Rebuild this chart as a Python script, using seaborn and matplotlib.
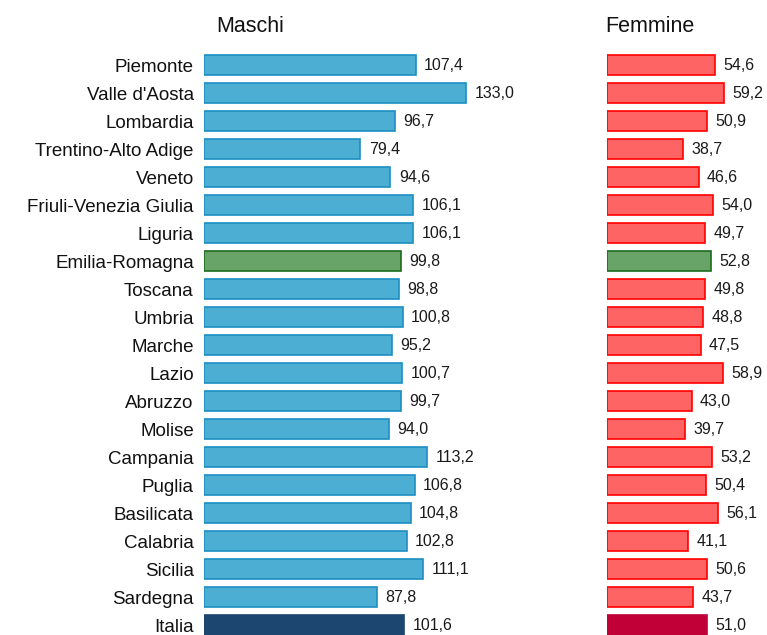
import pandas as pd
import numpy as np
import matplotlib.pyplot as plt
import seaborn as sns

# -------------------------
# Data
# -------------------------
regioni = ["Piemonte", "Valle d'Aosta", "Lombardia", "Trentino-Alto Adige", "Veneto",
           "Friuli-Venezia Giulia", "Liguria", "Emilia-Romagna", "Toscana", "Umbria",
           "Marche", "Lazio", "Abruzzo", "Molise", "Campania", "Puglia", "Basilicata",
           "Calabria", "Sicilia", "Sardegna", "Italia"]
maschi = [107.4, 133.0, 96.7, 79.4, 94.6, 106.1, 106.1, 99.8, 98.8, 100.8,
          95.2, 100.7, 99.7, 94.0, 113.2, 106.8, 104.8, 102.8, 111.1, 87.8, 101.6]
femmine = [54.6, 59.2, 50.9, 38.7, 46.6, 54.0, 49.7, 52.8, 49.8, 48.8,
           47.5, 58.9, 43.0, 39.7, 53.2, 50.4, 56.1, 41.1, 50.6, 43.7, 51.0]

df = pd.DataFrame({"regione": regioni, "maschi": maschi, "femmine": femmine})

sns.set_theme(style="white")
plt.rcParams['font.family'] = ['Liberation Sans', 'DejaVu Sans']

# colours: highlight Emilia-Romagna and Italia
def colori(base_fill, base_edge, ita_fill, ita_edge):
    fills, edges = {}, {}
    for r in regioni:
        if r == "Emilia-Romagna":
            fills[r], edges[r] = "#68A368", "#1E6B1E"
        elif r == "Italia":
            fills[r], edges[r] = ita_fill, ita_edge
        else:
            fills[r], edges[r] = base_fill, base_edge
    return fills, edges

fill_m, edge_m = colori("#4BAED2", "#1B8FC2", "#1C4670", "#1C4670")
fill_f, edge_f = colori("#FF6464", "#FF0000", "#C00036", "#C00036")

W, H = 767, 635
fig = plt.figure(figsize=(W / 100, H / 100), dpi=100)

row = 28.0
top = 51.0
n_rows = (H - top) / row
scale = 1.976  # px per unit

def make_ax(x0, xmax):
    width = xmax * scale
    return fig.add_axes([x0 / W, 0, width / W, (H - top) / H])

ax_m = make_ax(203.5, 150)
ax_f = make_ax(606.7, 75)

for ax, col, fills, edges, show_labels in [
        (ax_m, "maschi", fill_m, edge_m, True),
        (ax_f, "femmine", fill_f, edge_f, False)]:
    sns.barplot(data=df, x=col, y="regione", hue="regione", palette=fills,
                legend=False, width=0.71, saturation=1, ax=ax, orient="h")
    for patch, r in zip(ax.patches, regioni):
        patch.set_edgecolor(edges[r])
        patch.set_linewidth(1.2)
    for cont in ax.containers:
        vals = cont.datavalues
        ax.bar_label(cont, labels=[f"{v:.1f}".replace(".", ",") for v in vals],
                     padding=6, fontsize=11.5, color="#1a1a1a")
    ax.set_xlim(0, 150 if col == "maschi" else 75)
    ax.set_ylim(n_rows - 0.5, -0.5)
    ax.set_xlabel("")
    ax.set_ylabel("")
    ax.set_xticks([])
    sns.despine(ax=ax, left=True, bottom=True)
    ax.tick_params(axis="y", length=0, pad=7)
    if show_labels:
        ax.set_yticks(range(len(regioni)))
        ax.set_yticklabels(regioni, fontsize=13.5, color="#111111")
    else:
        ax.set_yticks([])

fig.text(250 / W, 1 - 27 / H, "Maschi", ha="center", va="center", fontsize=15.5, color="#111111")
fig.text(650 / W, 1 - 27 / H, "Femmine", ha="center", va="center", fontsize=15.5, color="#111111")

fig.savefig("out.png", dpi=100)
